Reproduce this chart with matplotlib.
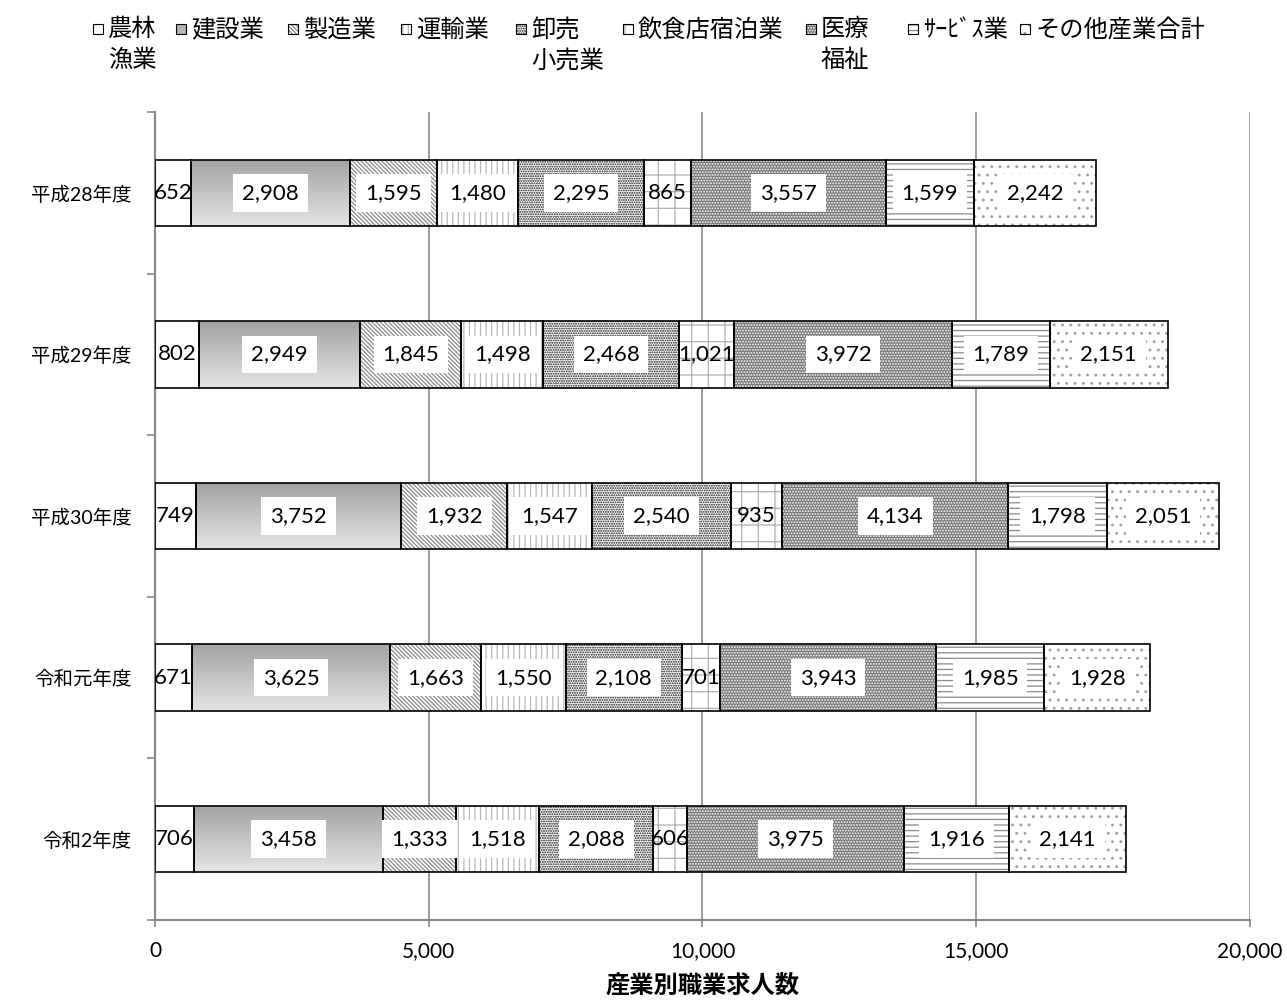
import numpy as np
import matplotlib
matplotlib.use('Agg')
import matplotlib.pyplot as plt
from matplotlib.patches import Rectangle
from matplotlib.colors import LinearSegmentedColormap
from matplotlib.ticker import StrMethodFormatter, FixedLocator

plt.rcParams['font.family'] = ['Lato', 'Noto Sans CJK JP', 'DejaVu Sans']
plt.rcParams['hatch.linewidth'] = 0.9

# data
years = ['平成28年度', '平成29年度', '平成30年度', '令和元年度', '令和2年度']
industries = ['農林\n漁業', '建設業', '製造業', '運輸業', '卸売\n小売業',
              '飲食店宿泊業', '医療\n福祉', 'ｻｰﾋﾞｽ業', 'その他産業合計']
agri = [652, 802, 749, 671, 706]
construction = [2908, 2949, 3752, 3625, 3458]
manufacturing = [1595, 1845, 1932, 1663, 1333]
transport = [1480, 1498, 1547, 1550, 1518]
wholesale = [2295, 2468, 2540, 2108, 2088]
food_lodging = [865, 1021, 935, 701, 606]
medical = [3557, 3972, 4134, 3943, 3975]
service = [1599, 1789, 1798, 1985, 1916]
other = [2242, 2151, 2051, 1928, 2141]
series = [agri, construction, manufacturing, transport, wholesale,
          food_lodging, medical, service, other]

# (facecolor, hatch, hatch colour) per series; None hatch = plain
GRAD = '#c4c4c4'
styles = [
    ('white', None, 'white'),
    (GRAD, None, GRAD),   # gradient drawn on top
    ('white', '\\' * 8, '#8a8a8a'),
    ('white', '|' * 3, '#b8b8b8'),
    ('white', '.' * 7, '#111111'),
    ('white', '+', '#b0b0b0'),
    ('#767676', '.' * 6, 'white'),
    ('white', '-' * 3, '#8a8a8a'),
    ('white', '..', '#a0a0a0'),
]

W, H = 1287, 1001
fig = plt.figure(figsize=(W / 100, H / 100), dpi=100)
ax = fig.add_axes([155 / W, 1 - 920 / H, 1095 / W, 808 / H])

y = np.arange(len(years))
bar_h = 0.41
left = np.zeros(len(years))
grad_cmap = LinearSegmentedColormap.from_list('g', ['#a3a3a3', '#e4e4e4'])

for vals, (fc, hatch, hc) in zip(series, styles):
    vals = np.array(vals)
    fill = ax.barh(y, vals, height=bar_h, left=left, color=fc,
                   edgecolor=hc, hatch=hatch, linewidth=0, zorder=2)
    if fc == GRAD:
        grad = np.linspace(0, 1, 64).reshape(-1, 1)
        for p in fill:
            im = ax.imshow(grad, cmap=grad_cmap, aspect='auto', origin='upper',
                           extent=(p.get_x(), p.get_x() + p.get_width(),
                                   p.get_y() + p.get_height(), p.get_y()),
                           zorder=2.1, interpolation='bilinear')
            im.set_clip_path(p)
    ax.barh(y, vals, height=bar_h, left=left, fill=False,
            edgecolor='black', linewidth=1.2, zorder=3)
    for yi, l, v in zip(y, left, vals):
        box = dict(boxstyle='square,pad=0.4', fc='white', ec='none') if v > 1200 else None
        ax.text(l + v / 2, yi, f'{v:,}', ha='center', va='center',
                fontsize=16, bbox=box, zorder=5)
    left = left + vals

ax.set_xlim(0, 20000)
ax.set_ylim(len(years) - 0.5, -0.5)
ax.xaxis.set_major_locator(FixedLocator([0, 5000, 10000, 15000, 20000]))
ax.xaxis.set_major_formatter(StrMethodFormatter('{x:,.0f}'))
ax.set_yticks(y)
ax.set_yticklabels(years)
ax.yaxis.set_minor_locator(FixedLocator(np.arange(-0.5, len(years), 1)))
ax.tick_params(axis='y', which='major', length=0, pad=17, labelsize=14)
ax.tick_params(axis='y', which='minor', length=6, width=1.2, color='#868686')
ax.tick_params(axis='x', length=5, width=1.2, color='#868686', pad=10, labelsize=15)
ax.grid(axis='x', color='#8c8c8c', linewidth=1.2)
ax.set_axisbelow(True)
for s in ['top', 'right']:
    ax.spines[s].set_visible(False)
for s in ['left', 'bottom']:
    ax.spines[s].set_color('#868686')
    ax.spines[s].set_linewidth(1.5)
ax.set_xlabel('産業別職業求人数', fontsize=17.5, fontweight='bold', labelpad=9)

# legend laid out like the original, handle left edges in pixels
handle_x = [93, 176, 288, 401, 516, 623, 806, 908, 1020]
hs = 10
for hx, lab, (fc, hatch, hc) in zip(handle_x, industries, styles):
    fig.add_artist(Rectangle((hx / W, 1 - 34 / H), hs / W, hs / H,
                             transform=fig.transFigure,
                             facecolor='#b5b5b5' if fc == GRAD else fc,
                             edgecolor=hc, hatch=hatch, linewidth=0))
    fig.add_artist(Rectangle((hx / W, 1 - 34 / H), hs / W, hs / H,
                             transform=fig.transFigure, fill=False,
                             edgecolor='black', linewidth=0.8))
    fig.text((hx + 15) / W, 1 - 18 / H, lab, fontsize=17.5, va='top', ha='left',
             linespacing=1.45)

fig.savefig('out.png', dpi=100)
